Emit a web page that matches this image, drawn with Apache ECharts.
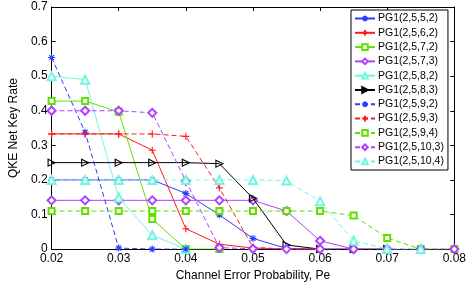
<!DOCTYPE html>
<html>
<head>
<meta charset="utf-8">
<script src="https://cdn.jsdelivr.net/npm/echarts@6/dist/echarts.min.js"></script>
<style>html,body{margin:0;padding:0;background:#fff}#c{width:469px;height:287px}</style>
</head>
<body>
<div id="c"></div>
<script>
// x positions (channel error probability)
const xs = [0.02,0.025,0.03,0.035,0.04,0.045,0.05,0.055,0.06,0.065,0.07,0.075,0.08];
const xTicks = [0.02,0.03,0.04,0.05,0.06,0.07,0.08];
const yTicks = [0,0.1,0.2,0.3,0.4,0.5,0.6,0.7];
const names = ['PG1(2,5,5,2)','PG1(2,5,6,2)','PG1(2,5,7,2)','PG1(2,5,7,3)','PG1(2,5,8,2)','PG1(2,5,8,3)','PG1(2,5,9,2)','PG1(2,5,9,3)','PG1(2,5,9,4)','PG1(2,5,10,3)','PG1(2,5,10,4)'];
// series values
const s5_2  = [0.2,0.2,0.2,0.2,0.161,0.099,0.031,0.002,0];
const s6_2  = [0.333,0.333,0.333,0.286,0.059,0.014,0.003,0,0];
const s7_2  = [0.428,0.428,0.397,0.087,0,0];
const s7_3  = [0.141,0.141,0.141,0.141,0.141,0.141,0.141,0.11,0.024,0];
const s8_2  = [0.5,0.49,0.149,0.04,0];
const s8_3  = [0.25,0.25,0.25,0.25,0.25,0.247,0.147,0.012,0,0,0];
const s9_2  = [0.554,0.338,0.003,0,0];
const s9_3  = [0.333,0.333,0.333,0.333,0.326,0.177,0.005,0,0];
const s9_4  = [0.11,0.11,0.11,0.11,0.11,0.11,0.11,0.11,0.11,0.097,0.032,0,0];
const s10_3 = [0.4,0.4,0.4,0.394,0.197,0.004,0.001,0,0,0,0,0,0];
const s10_4 = [0.2,0.2,0.2,0.2,0.2,0.2,0.2,0.198,0.138,0.024,0,0];
const values = [s5_2,s6_2,s7_2,s7_3,s8_2,s8_3,s9_2,s9_3,s9_4,s10_3,s10_4];

const BLUE='#2a3cff', RED='#ff1a1a', GREEN='#5fe000', PURPLE='#b040ff', CYAN='#70f5e0', BLACK='#000000';
const STAR='path://M5,0L5,10M0,5L10,5M1.5,1.5L8.5,8.5M8.5,1.5L1.5,8.5';
const PLUS='path://M5,0L5,10M0,5L10,5';
const RTRI='path://M1,0L9,5L1,10Z';
const styles = [
  {c:BLUE, s:STAR, d:'solid', stroke:true},
  {c:RED, s:PLUS, d:'solid', stroke:true},
  {c:GREEN, s:'emptyRect', d:'solid'},
  {c:PURPLE, s:'emptyDiamond', d:'solid'},
  {c:CYAN, s:'emptyTriangle', d:'solid'},
  {c:BLACK, s:RTRI, d:'solid', stroke:true},
  {c:BLUE, s:STAR, d:[5,3], stroke:true},
  {c:RED, s:PLUS, d:[5,3], stroke:true},
  {c:GREEN, s:'emptyRect', d:[5,3]},
  {c:PURPLE, s:'emptyDiamond', d:[5,3]},
  {c:CYAN, s:'emptyTriangle', d:[5,3]}
];
const FONT='Liberation Sans, Arial, sans-serif';

const series = values.map((v,i)=>{
  const st=styles[i];
  const sz = st.s==='emptyRect'?6:(st.s==='emptyDiamond'?8:(st.s==='emptyTriangle'?8:7));
  return {
    name:names[i], type:'line', xAxisIndex:0, yAxisIndex:0,
    data:v.map((y,j)=>[xs[j],y]),
    symbol:st.s, symbolSize:sz, showAllSymbol:true,
    lineStyle:{color:st.c,width:1,type:st.d},
    itemStyle: st.stroke ? {color:'rgba(0,0,0,0)',borderColor:st.c,borderWidth:1.1} : {color:st.c,borderColor:st.c,borderWidth:1},
    emphasis:{disabled:true}, animation:false, z:2+i
  };
});

const chart = echarts.init(document.getElementById('c'),null,{renderer:'canvas'});
const axisCommon = {
  axisLine:{show:true,onZero:false,lineStyle:{color:'#000',width:1}},
  axisTick:{show:true,inside:true,length:4,lineStyle:{color:'#000'}},
  splitLine:{show:false}
};
chart.setOption({
  backgroundColor:'#fff',
  animation:false,
  textStyle:{fontFamily:FONT},
  grid:{left:36,right:12,top:7,bottom:29,containLabel:false},
  legend:{
    orient:'vertical', left:351, top:10,
    data:names,
    itemWidth:20, itemHeight:7, itemGap:3.3,
    padding:[3,4,3,3],
    borderColor:'#000', borderWidth:1, backgroundColor:'#fff',
    textStyle:{fontFamily:FONT,fontSize:10.5,lineHeight:10,color:'#000',padding:[0,0,0,-2]},
    z:20
  },
  xAxis:[
    Object.assign({type:'value',min:0.02,max:0.08,interval:0.01,position:'bottom',
      name:'Channel Error Probability, Pe',nameLocation:'middle',nameGap:20,
      nameTextStyle:{fontFamily:FONT,fontSize:12,color:'#000'},
      axisLabel:{fontFamily:FONT,fontSize:12,color:'#000',margin:4,formatter:v=>v.toFixed(2)}},axisCommon),
    Object.assign({type:'value',min:0.02,max:0.08,interval:0.01,position:'top',
      axisLabel:{show:false}},axisCommon)
  ],
  yAxis:[
    Object.assign({type:'value',min:0,max:0.7,interval:0.1,position:'left',
      name:'QKE Net Key Rate',nameLocation:'middle',nameGap:23,
      nameTextStyle:{fontFamily:FONT,fontSize:12,color:'#000'},
      axisLabel:{fontFamily:FONT,fontSize:12,color:'#000',margin:4,formatter:v=>v===0?'0':v.toFixed(1)}},axisCommon),
    Object.assign({type:'value',min:0,max:0.7,interval:0.1,position:'right',
      axisLabel:{show:false}},axisCommon)
  ],
  series:series
});
</script>
</body>
</html>
